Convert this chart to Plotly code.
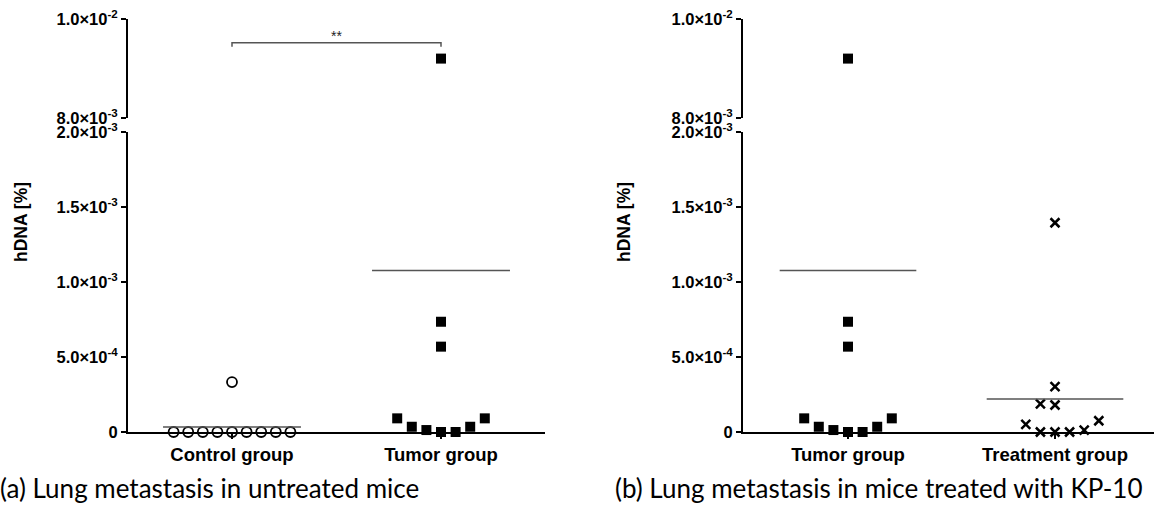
import numpy as np
import plotly.graph_objects as go

# ---------------- data ----------------
groups_a = ["Control group", "Tumor group"]
groups_b = ["Tumor group", "Treatment group"]

control = [0, 0, 0, 0, 0, 0, 0, 0, 0, 0.333e-3]
tumor = [9.2e-3, 0.735e-3, 0.569e-3, 0.091e-3, 0.035e-3, 0.013e-3, 0, 0, 0.035e-3, 0.091e-3]
treatment = [1.395e-3, 0.302e-3, 0.187e-3, 0.18e-3, 0.051e-3, 0, 0, 0, 0.013e-3, 0.075e-3]

lower_ticks = [0, 5e-4, 1e-3, 1.5e-3, 2e-3]
lower_text = ["0", "5.0×10<sup>-4</sup>", "1.0×10<sup>-3</sup>", "1.5×10<sup>-3</sup>", "2.0×10<sup>-3</sup>"]
upper_ticks = [8e-3, 1e-2]
upper_text = ["8.0×10<sup>-3</sup>", "1.0×10<sup>-2</sup>"]
lower_range = [0, 2e-3]
upper_range = [8e-3, 1e-2]
significance = "**"

captions = ["(a) Lung metastasis in untreated mice", "(b) Lung metastasis in mice treated with KP-10"]
ytitle = "hDNA [%]"

# ---------------- layout helpers ----------------
W, H = 1154, 509


def px_x(p):
    return p / W


def px_y(p):
    return 1 - p / H


def swarm(values, thr=1e-4, step=0.07):
    vals = np.asarray(values, dtype=float)
    order = np.argsort(vals, kind="stable")
    rows, cur, start = [], [], None
    for i in order:
        if start is None or vals[i] - start < thr:
            if start is None:
                start = vals[i]
            cur.append(i)
        else:
            rows.append(cur)
            cur, start = [i], vals[i]
    rows.append(cur)
    off = np.zeros(len(vals))
    for r in rows:
        r = sorted(r)
        n = len(r)
        center = (n - 1) // 2 if n != 2 else 1
        for k, i in enumerate(r):
            off[i] = (k - center) * step
    return off


fig = go.Figure()

AX = dict(showgrid=False, zeroline=False, showline=True, linecolor="black", linewidth=2,
          ticks="outside", ticklen=5, tickwidth=2, tickcolor="black", automargin=False)
TICKFONT = dict(family="Liberation Sans", size=16.5, color="black", weight="bold")
XFONT = dict(family="Liberation Sans", size=18.5, color="black", weight="bold")

lo_dom = [px_y(432), px_y(132)]
up_dom = [px_y(118), px_y(19)]

panels = [
    dict(x="x", ylo="y", yup="y2", xl=128, xr=545, c0=232, c1=441, groups=groups_a,
         data=[control, tumor],
         markers=[dict(symbol="circle-open", size=10, color="black", line=dict(width=1.8, color="black")),
                  dict(symbol="square", size=10, color="black")],
         bracket=True),
    dict(x="x2", ylo="y3", yup="y4", xl=743, xr=1154, c0=848, c1=1055, groups=groups_b,
         data=[tumor, treatment],
         markers=[dict(symbol="square", size=10, color="black"),
                  dict(symbol="x-thin", size=9, color="black", line=dict(width=2.5, color="black"))],
         bracket=False),
]

for pi, p in enumerate(panels):
    unit = p["c1"] - p["c0"]
    rmin = -(p["c0"] - p["xl"]) / unit
    rmax = rmin + (p["xr"] - p["xl"]) / unit
    step = 14.6 / unit
    xname = "xaxis" if p["x"] == "x" else "xaxis2"
    ylo_name = "yaxis" if p["ylo"] == "y" else "yaxis" + p["ylo"][1:]
    yup_name = "yaxis" + p["yup"][1:]
    fig.update_layout(**{
        xname: dict(AX, domain=[px_x(p["xl"]), px_x(p["xr"])], anchor=p["ylo"], range=[rmin, rmax],
                    tickvals=[0, 1], ticktext=p["groups"], tickfont=XFONT),
        ylo_name: dict(AX, domain=lo_dom, anchor=p["x"], range=lower_range,
                       tickvals=lower_ticks, ticktext=lower_text, tickfont=TICKFONT),
        yup_name: dict(AX, domain=up_dom, anchor=p["x"], range=upper_range,
                       tickvals=upper_ticks, ticktext=upper_text, tickfont=TICKFONT),
    })
    for gi, (vals, mk) in enumerate(zip(p["data"], p["markers"])):
        vals = np.asarray(vals)
        xs = gi + swarm(vals, step=step)
        lo = vals <= lower_range[1]
        fig.add_trace(go.Scatter(x=xs[lo], y=vals[lo], mode="markers", marker=mk,
                                 xaxis=p["x"], yaxis=p["ylo"], cliponaxis=False, showlegend=False))
        fig.add_trace(go.Scatter(x=xs[~lo], y=vals[~lo], mode="markers", marker=mk,
                                 xaxis=p["x"], yaxis=p["yup"], cliponaxis=False, showlegend=False))
        m = float(np.mean(vals))
        fig.add_trace(go.Scatter(x=[gi - 0.33, gi + 0.33], y=[m, m], mode="lines",
                                 line=dict(color="#555555", width=1.5),
                                 xaxis=p["x"], yaxis=p["ylo"] if m <= lower_range[1] else p["yup"],
                                 cliponaxis=False, showlegend=False))
    if p["bracket"]:
        top = max(max(v) for v in p["data"])
        b = top + 0.32e-3
        d = 0.08e-3
        fig.add_trace(go.Scatter(x=[0, 0, 1, 1], y=[b - d, b, b, b - d], mode="lines",
                                 line=dict(color="#555555", width=1.5),
                                 xaxis=p["x"], yaxis=p["yup"], cliponaxis=False, showlegend=False))
        fig.add_annotation(x=0.5, y=b, xref=p["x"], yref=p["yup"], text=significance,
                           showarrow=False, yshift=7, font=dict(family="Liberation Sans", size=14, color="#222"))
    # y title
    fig.add_annotation(x=px_x(p["xl"] - 119), y=px_y(222), xref="paper", yref="paper",
                       text=ytitle, textangle=-90, showarrow=False,
                       font=dict(family="Liberation Sans", size=17.5, color="black", weight="bold"))
    # caption
    fig.add_annotation(x=px_x([-2, 613][pi]), y=px_y(488), xref="paper", yref="paper",
                       text=captions[pi], showarrow=False, xanchor="left", yanchor="middle",
                       font=dict(family="Lato", size=26, color="black"))

fig.update_layout(width=W, height=H, margin=dict(l=0, r=0, t=0, b=0),
                  paper_bgcolor="white", plot_bgcolor="white")

fig.write_html("out.html", config={"displayModeBar": False},
               post_script="document.body.style.margin='0';document.body.style.overflow='hidden';")
